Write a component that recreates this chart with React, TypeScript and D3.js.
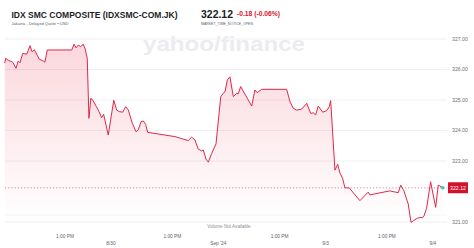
import React from "react";
import * as d3 from "d3";

// Trading-session hours since the 8/29 open (7h per session), and index level
const hours = [
  0.07, 0.13, 0.3, 0.59, 0.8, 0.95, 1.06, 1.24, 1.5, 1.72, 1.85, 2.0, 2.32, 2.58, 2.69, 2.84,
  4.44, 4.59, 4.72, 4.87, 5.02, 5.19, 5.32, 5.45, 5.56, 5.69, 5.84, 6.22, 6.39, 6.52, 6.82,
  7.18, 7.37, 7.54, 7.76, 7.96, 8.13, 8.39, 8.63, 8.78, 8.96, 9.11, 9.26, 9.39, 11.17,
  12.04, 12.26, 12.48, 12.69, 12.92, 13.02, 13.2, 13.35, 13.57, 13.85, 14.16, 14.32, 14.44,
  14.59, 14.76, 14.98, 15.2, 15.3, 15.46, 16.18, 16.39, 16.54, 16.83, 18.46, 18.68, 18.89,
  19.11, 19.44, 19.77, 20.03, 20.2, 20.35, 20.52, 20.81, 21.07, 21.24, 21.33, 21.61, 21.79,
  21.94, 22.11, 22.26, 22.54, 23.24, 23.78, 23.89, 25.19, 25.74, 25.9, 26.11, 26.39, 26.57,
  26.72, 26.98, 27.16, 27.33, 27.42, 27.59, 27.85, 28.18, 28.35, 28.46, 28.64,
];
const prices = [
  326.21, 326.37, 326.3, 326.24, 326.04, 326.28, 326.22, 326.53, 326.5, 326.78, 326.58, 326.65,
  326.34, 326.28, 326.24, 326.64, 326.64, 326.83, 326.71, 326.8, 326.75, 326.83, 326.67, 326.37,
  324.4, 325.06, 324.97, 324.62, 324.42, 324.53, 323.85, 324.99, 324.67, 324.62, 324.6, 324.78,
  324.67, 324.24, 323.96, 324.02, 324.29, 324.31, 324.2, 323.94, 323.8, 323.67, 323.78, 323.69,
  323.39, 323.33, 323.36, 323.06, 322.96, 323.25, 323.56, 325.11, 325.22, 325.27, 325.66,
  325.76, 325.11, 325.22, 325.2, 325.44, 324.8, 325.33, 325.24, 325.35, 325.35, 324.94, 324.73,
  324.67, 324.7, 324.89, 324.56, 324.58, 324.51, 324.8, 324.6, 324.65, 324.78, 324.98, 322.7,
  322.89, 322.6, 322.43, 322.12, 322.12, 321.7, 321.98, 321.89, 322.02, 321.96, 322.21, 322.02,
  321.59, 320.99, 321.04, 321.12, 321.15, 321.14, 321.2, 321.45, 322.32, 321.48, 322.21,
  322.18, 322.12,
];

// 322.00 sits behind the last-price badge, so it is not listed
const yTicks = [321, 323, 324, 325, 326, 327];
const yTickLabels = yTicks.map((v) => v.toFixed(2));
const timeTickHours = [4, 11, 18, 25];
const timeTickLabels = ["1:00 PM", "1:00 PM", "1:00 PM", "1:00 PM"];
const dateTickHours = [7, 14, 21, 28];
const dateTickLabels = ["8/30", "Sep '24", "9/3", "9/4"];

const lastPrice = 322.12;
const change = "-0.18 (-0.06%)";

const W = 474;
const H = 248;
const FONT = "'Liberation Sans', Arial, sans-serif";

export default function App() {
  const x = d3.scaleLinear().domain([0, 28.92]).range([3.7, 447]);
  const y = d3.scaleLinear().domain([321, 327]).range([222, 39]);
  const data = hours.map((h, i) => ({ h, v: prices[i] }));

  const line = d3
    .line<{ h: number; v: number }>()
    .x((d) => x(d.h))
    .y((d) => y(d.v));
  const area = d3
    .area<{ h: number; v: number }>()
    .x((d) => x(d.h))
    .y0(y(321))
    .y1((d) => y(d.v));

  const last = data[data.length - 1];
  const [gx0, gx1] = [5, 447];

  return (
    <svg
      width={W}
      height={H}
      style={{ position: "absolute", left: 0, top: 0, background: "#fff" }}
      fontFamily={FONT}
    >
      <defs>
        <linearGradient id="fillGrad" gradientUnits="userSpaceOnUse" x1="0" y1={y(327)} x2="0" y2={y(321)}>
          <stop offset="0" stopColor="#e8334f" stopOpacity={0.2} />
          <stop offset="1" stopColor="#e8334f" stopOpacity={0} />
        </linearGradient>
      </defs>

      {/* header */}
      <text x={11.5} y={17.5} fontSize={9} fontWeight={700} fill="#1d1d1f" textLength={166} lengthAdjust="spacingAndGlyphs">
        IDX SMC COMPOSITE (IDXSMC-COM.JK)
      </text>
      <text x={11.5} y={24.5} fontSize={4} fill="#5b636a" textLength={57} lengthAdjust="spacingAndGlyphs">
        Jakarta - Delayed Quote • USD
      </text>
      <text x={201} y={18} fontSize={10} fontWeight={700} fill="#1d1d1f" textLength={32} lengthAdjust="spacingAndGlyphs">
        {lastPrice.toFixed(2)}
      </text>
      <text x={237} y={16.3} fontSize={6.5} fontWeight={700} fill="#e0112b" textLength={43} lengthAdjust="spacingAndGlyphs">
        {change}
      </text>
      <text x={201} y={24.5} fontSize={3.5} fill="#5b636a" textLength={52} lengthAdjust="spacingAndGlyphs">
        MARKET_TIME_NOTICE_OPEN
      </text>

      {/* watermark */}
      <text x={143} y={51} fontSize={21} fontWeight={700} fill="#ececf0" textLength={162} lengthAdjust="spacingAndGlyphs">
        yahoo/finance
      </text>

      {/* grid + y labels */}
      {yTicks.map((t, i) => (
        <g key={t}>
          <line x1={gx0} x2={gx1} y1={y(t)} y2={y(t)} stroke="#efeff2" strokeWidth={1} />
          <text x={452} y={y(t) + 1.8} fontSize={5.2} fill="#6e7079">
            {yTickLabels[i]}
          </text>
        </g>
      ))}
      <line x1={gx0} x2={gx1} y1={215} y2={215} stroke="#f5f5f7" strokeWidth={1} />

      {/* price area and line */}
      <path d={area(data) ?? ""} fill="url(#fillGrad)" />
      <line
        x1={gx0}
        x2={gx1}
        y1={y(lastPrice)}
        y2={y(lastPrice)}
        stroke="#e0284a"
        strokeWidth={0.8}
        strokeDasharray="1.2,2"
        opacity={0.7}
      />
      <path d={line(data) ?? ""} fill="none" stroke="#e0284a" strokeWidth={1} strokeLinejoin="round" />
      <circle cx={x(last.h)} cy={y(last.v)} r={1.8} fill="#3ec6d3" />

      {/* last price badge */}
      <rect x={448} y={y(lastPrice) - 5.5} width={20} height={11} fill="#d3112b" rx={0.5} />
      <text x={458} y={y(lastPrice) + 1.8} fontSize={5.2} fill="#fff" textAnchor="middle">
        {lastPrice.toFixed(2)}
      </text>

      {/* volume note */}
      <text x={229} y={227.5} fontSize={4.6} fill="#8a8f95" textAnchor="middle">
        Volume Not Available
      </text>

      {/* x axis labels */}
      {timeTickHours.map((h, i) => (
        <text key={`t${i}`} x={x(h)} y={237.5} fontSize={4.8} fill="#5b636a" textAnchor="middle">
          {timeTickLabels[i]}
        </text>
      ))}
      {dateTickHours.map((h, i) => (
        <text key={`d${i}`} x={x(h)} y={244.5} fontSize={4.8} fill="#5b636a" textAnchor="middle">
          {dateTickLabels[i]}
        </text>
      ))}
    </svg>
  );
}
